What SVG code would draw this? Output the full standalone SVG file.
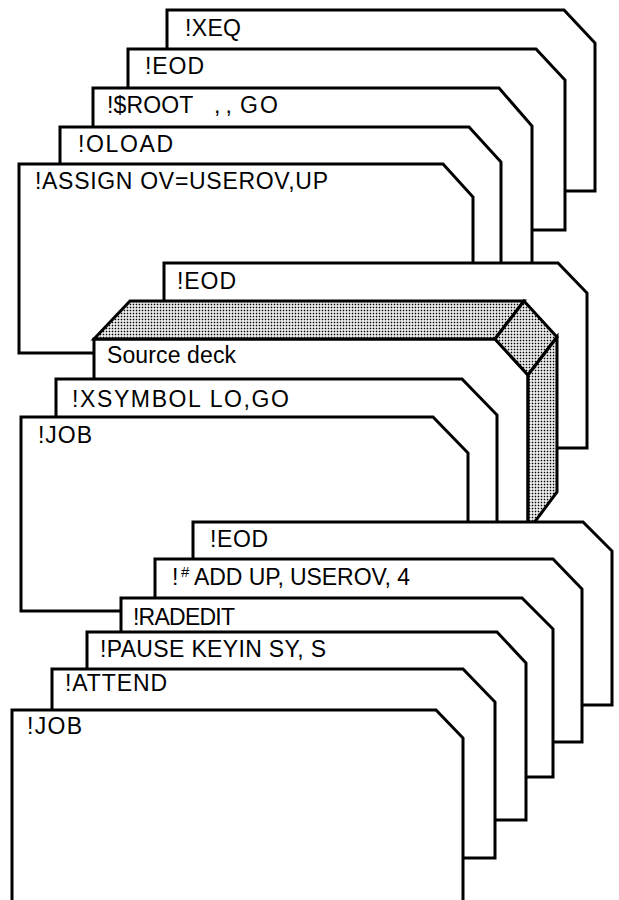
<svg xmlns="http://www.w3.org/2000/svg" width="619" height="900" viewBox="0 0 619 900">
<defs>
<pattern id="dots" width="3" height="3" patternUnits="userSpaceOnUse">
<rect width="3" height="3" fill="#fff"/>
<rect x="0.7" y="0.7" width="1.6" height="1.6" fill="#000"/>
</pattern>
<style>
.card{fill:#fff;stroke:#000;stroke-width:3;stroke-linejoin:miter}
.shade{fill:url(#dots);stroke:#000;stroke-width:3;stroke-linejoin:miter}
.lbl{font-family:"Liberation Sans",Arial,sans-serif;font-size:23px;fill:#000}
.sup{font-size:15px}
</style>
</defs>
<rect width="619" height="900" fill="#fff"/>
<g id="card-xeq">
<polygon class="card" points="167,10 564,10 595,43 595,191 167,191"/>
<text class="lbl" x="185" y="36" textLength="56" lengthAdjust="spacing">!XEQ</text>
</g>
<g id="card-eod1">
<polygon class="card" points="128,49 536,49 565,80 565,230 128,230"/>
<text class="lbl" x="145" y="74" textLength="59" lengthAdjust="spacing">!EOD</text>
</g>
<g id="card-root">
<polygon class="card" points="93,88 499,88 532,126 532,300 93,300"/>
<text class="lbl" x="107" y="113"><tspan textLength="86" lengthAdjust="spacing">!$ROOT</tspan> <tspan x="214" letter-spacing="5">,,</tspan><tspan x="240" letter-spacing="2">GO</tspan></text>
</g>
<g id="card-oload">
<polygon class="card" points="60,127 469,127 501,162 501,300 60,300"/>
<text class="lbl" x="78" y="152" textLength="95" lengthAdjust="spacing">!OLOAD</text>
</g>
<g id="card-assign">
<polygon class="card" points="19,164 443,164 473,197 473,353 19,353"/>
<text class="lbl" x="35" y="189" textLength="293" lengthAdjust="spacing">!ASSIGN OV=USEROV,UP</text>
</g>
<g id="card-eod2">
<polygon class="card" points="164,263 558,263 587,293 587,448 164,448"/>
<text class="lbl" x="177" y="289" textLength="59" lengthAdjust="spacing">!EOD</text>
</g>
<g id="source-deck">
<polygon class="card" points="94,339 495,339 528,375 528,531 94,531"/>
<polygon class="shade" points="130,301 524,301 495,339 94,339"/>
<polygon class="shade" points="524,301 557,337 528,375 495,339"/>
<polygon class="shade" points="557,337 557,492 528,531 528,375"/>
<text class="lbl" x="107" y="363" textLength="129" lengthAdjust="spacing">Source deck</text>
</g>
<g id="card-xsymbol">
<polygon class="card" points="56,379 462,379 497,415 497,560 56,560"/>
<text class="lbl" x="72" y="407" textLength="217" lengthAdjust="spacing">!XSYMBOL LO,GO</text>
</g>
<g id="card-job1">
<polygon class="card" points="21,417 433,417 468,453 468,611 21,611"/>
<text class="lbl" x="38" y="443" textLength="54" lengthAdjust="spacing">!JOB</text>
</g>
<g id="card-eod3">
<polygon class="card" points="193,522 583,522 612,551 612,705 193,705"/>
<text class="lbl" x="210" y="547" textLength="58" lengthAdjust="spacing">!EOD</text>
</g>
<g id="card-add">
<polygon class="card" points="155,559 553,559 582,589 582,742 155,742"/>
<text class="lbl" x="172" y="585">!<tspan class="sup" x="181" dy="-8">#</tspan><tspan x="194" dy="8" textLength="216" lengthAdjust="spacing">ADD UP, USEROV, 4</tspan></text>
</g>
<g id="card-radedit">
<polygon class="card" points="121,598 522,598 553,629 553,777 121,777"/>
<text class="lbl" x="133" y="625" textLength="102" lengthAdjust="spacing">!RADEDIT</text>
</g>
<g id="card-pause">
<polygon class="card" points="87,632 497,632 526,663 526,820 87,820"/>
<text class="lbl" x="100" y="657" textLength="226" lengthAdjust="spacing">!PAUSE KEYIN SY, S</text>
</g>
<g id="card-attend">
<polygon class="card" points="52,669 463,669 495,702 495,858 52,858"/>
<text class="lbl" x="65" y="691" textLength="102" lengthAdjust="spacing">!ATTEND</text>
</g>
<g id="card-job2">
<polygon class="card" points="12,710 436,710 463,738 463,910 12,910"/>
<text class="lbl" x="27" y="734" textLength="55" lengthAdjust="spacing">!JOB</text>
</g>
<g id="connectors"/>
</svg>
